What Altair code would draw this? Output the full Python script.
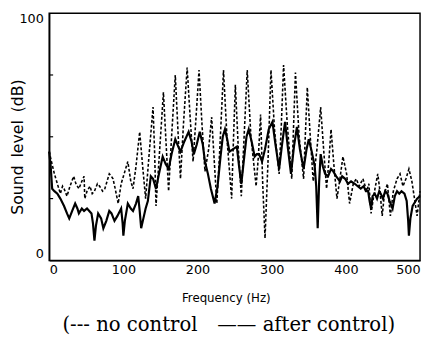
import altair as alt
import pandas as pd

# no control (dashed)
nc_hz = [0, 3, 7, 11, 15, 18, 20, 24, 28, 33, 36, 40, 44, 47, 48, 51, 55, 58, 61, 65, 68, 72, 75, 78, 81, 84, 86, 89, 93, 97,
         102, 106, 110, 113, 117, 122, 126, 130, 135, 140, 142, 144, 149, 154, 158, 161, 165, 170, 174, 177, 181, 186, 190, 194,
         198, 202, 206, 210, 215, 219, 223, 226, 230, 235, 240, 246, 248, 251, 255, 259, 262, 267, 272, 279, 282, 285, 288, 291,
         295, 299, 304, 310, 313, 316, 321, 327, 329, 332, 337, 343, 345, 348, 352, 356, 361, 366, 370, 374, 377, 380, 384, 388,
         392, 396, 401, 405, 410, 414, 418, 423, 428, 431, 434, 438, 443, 446, 449, 452, 456, 460, 464, 469, 473, 477, 481, 485,
         489, 493, 496, 500]
nc_db = [44, 40, 35, 31, 27, 30, 29, 26, 30, 34, 31, 29, 32, 34, 25, 28, 30, 27, 28, 31, 30, 28, 29, 32, 35, 34, 33, 29, 23, 31,
         36, 40, 32, 29, 38, 52, 38, 25, 44, 62, 45, 22, 45, 68, 45, 28, 50, 75, 50, 33, 55, 78, 58, 40,
         58, 77, 55, 36, 45, 58, 38, 23, 45, 77, 48, 25, 45, 71, 45, 26, 45, 77, 50, 30, 42, 59, 30, 9,
         40, 77, 52, 35, 55, 79, 55, 33, 50, 76, 50, 33, 48, 70, 50, 32, 45, 62, 45, 29, 40, 53, 38, 25,
         33, 42, 35, 23, 31, 33, 30, 33, 28, 31, 19, 27, 35, 28, 18, 27, 31, 18, 28, 33, 35, 30, 33, 37,
         32, 24, 18, 28]

# after control (solid)
ac_hz = [0, 2, 4, 7, 11, 15, 20, 24, 27, 31, 35, 38, 40, 44, 47, 51, 54, 57, 59, 61, 63, 66, 70, 73, 77, 81, 84, 88, 92, 97,
         99, 100, 102, 106, 110, 113, 117, 120, 122, 124, 127, 130, 133, 137, 140, 144, 148, 153, 157, 161, 165, 170, 174, 177,
         182, 188, 192, 195, 199, 203, 207, 210, 214, 218, 223, 227, 231, 234, 237, 240, 243, 248, 253, 256, 259, 263, 266, 269,
         273, 277, 280, 283, 287, 291, 296, 301, 305, 310, 314, 318, 322, 326, 330, 334, 338, 343, 347, 350, 354, 358, 360, 362,
         364, 366, 369, 372, 376, 380, 383, 387, 392, 395, 399, 403, 407, 412, 416, 420, 424, 427, 430, 432, 434, 436, 439, 442,
         445, 447, 450, 453, 456, 459, 463, 466, 469, 472, 475, 479, 482, 484, 485, 487, 490, 492, 496, 500]
ac_db = [44, 38, 29, 28, 27, 25, 22, 19, 17, 20, 23, 21, 19, 21, 20, 21, 20, 19, 15, 8, 14, 19, 17, 13, 16, 20, 19, 16, 18, 21,
         15, 10, 16, 23, 21, 20, 23, 26, 20, 13, 17, 21, 24, 34, 33, 29, 35, 42, 39, 37, 43, 49, 46, 44,
         48, 52, 48, 43, 47, 52, 47, 40, 35, 29, 23, 30, 42, 50, 53, 49, 44, 45, 46, 38, 31, 42, 50, 53,
         48, 42, 43, 43, 40, 45, 53, 56, 47, 37, 47, 56, 45, 35, 46, 54, 45, 37, 45, 49, 44, 38, 30, 13,
         32, 43, 38, 35, 34, 37, 36, 34, 32, 34, 33, 31, 32, 31, 30, 29, 30, 28, 28, 24, 21, 26, 27, 25,
         28, 27, 25, 28, 27, 24, 21, 26, 28, 27, 28, 27, 24, 16, 10, 17, 22, 23, 25, 26]

y_minor_ticks = [25, 50, 75]
x_ticks = [0, 100, 200, 300, 400, 500]
y_ticks = [0, 100]
legend_text = ["(--- no control\u2003\u2014\u2014 after control)"]

nc = pd.DataFrame({"hz": nc_hz, "db": nc_db})
ac = pd.DataFrame({"hz": ac_hz, "db": ac_db})

xs = alt.Scale(domain=[0, 500], nice=False, zero=False)
ys = alt.Scale(domain=[0, 100], nice=False)

xaxis = alt.Axis(values=x_ticks, title="Frequency (Hz)", labelFlush=True, labelPadding=3,
                 titleX=180, titleY=38, titleAnchor="start", titleAlign="center", titleBaseline="middle")
yaxis = alt.Axis(values=y_ticks, title="Sound\u2002level\u2002(dB)", labelPadding=6, labelFlush=True,
                 titleX=-32, titleY=136, titleAngle=270, titleAlign="center", titleBaseline="middle")

line_nc = alt.Chart(nc).mark_line(color="black", strokeWidth=1.6, strokeDash=[3, 2]).encode(
    x=alt.X("hz:Q", scale=xs, axis=xaxis),
    y=alt.Y("db:Q", scale=ys, axis=yaxis),
)
line_ac = alt.Chart(ac).mark_line(color="black", strokeWidth=2.2).encode(
    x=alt.X("hz:Q", scale=xs),
    y=alt.Y("db:Q", scale=ys),
)
ticks = alt.Chart(pd.DataFrame({"v": y_minor_ticks})).mark_rule(color="black", strokeWidth=1.2).encode(
    x=alt.value(0), x2=alt.value(4), y=alt.Y("v:Q", scale=ys)
)
legend = alt.Chart(pd.DataFrame({"t": legend_text})).mark_text(
    font="DejaVu Serif", fontSize=20, color="black", align="center", baseline="middle"
).encode(x=alt.value(183), y=alt.value(318), text="t:N")

chart = alt.layer(line_nc, line_ac, ticks, legend).properties(
    width=378, height=252,
    autosize=alt.AutoSizeParams(type="none"),
    padding={"left": 42, "top": 2, "right": 2, "bottom": 85},
    background="white",
).configure_axis(
    labelFont="DejaVu Sans", labelFontSize=13, labelColor="black",
    titleFont="DejaVu Sans", titleFontSize=12, titleColor="black", titleFontWeight="normal",
    domainColor="black", domainWidth=1.5, grid=False, ticks=False,
).configure_axisY(titleFontSize=16).configure_view(stroke="black", strokeWidth=1.5)

chart.save("out.html", embed_options={"renderer": "svg", "actions": False})
